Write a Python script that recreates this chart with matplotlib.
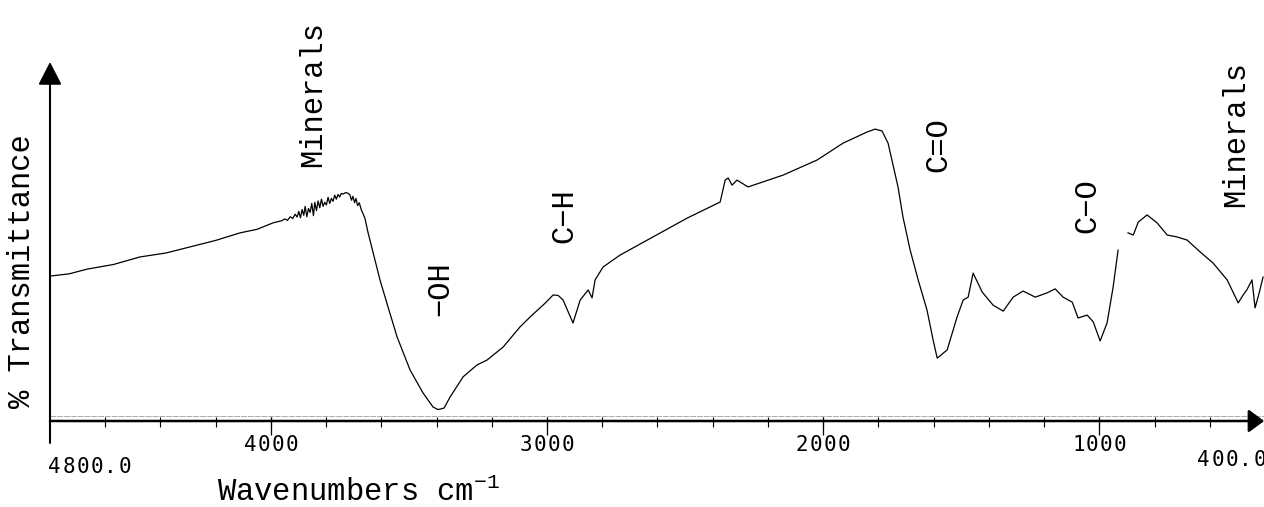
import matplotlib.pyplot as plt
import numpy as np

# FTIR spectrum (cm-1, %T in arbitrary 0-100 units)
wavenumber = [4796, 4730, 4666, 4570, 4474, 4380, 4293, 4200, 4112, 4050,
              3992, 3960, 3950, 3940, 3930, 3921, 3912, 3905, 3899, 3893,
              3887, 3881, 3876, 3870, 3864, 3858, 3852, 3846, 3841, 3835,
              3829, 3823, 3817, 3811, 3805, 3799, 3793, 3787, 3781, 3775,
              3769, 3763, 3757, 3751, 3745, 3739, 3730, 3722, 3714, 3708,
              3703, 3697, 3692, 3686, 3680, 3673, 3665, 3659,
              3648, 3637, 3623, 3605, 3576, 3543, 3496, 3449, 3413, 3395, 3388,
              3373, 3351, 3304, 3254, 3217, 3159, 3098, 3061, 3010, 2978, 2960, 2942,
              2906, 2880, 2851, 2837, 2826, 2797, 2736, 2616, 2493, 2373,
              2355, 2344, 2330, 2312, 2272, 2145, 2022, 1928, 1841, 1812,
              1787, 1765, 1747, 1729, 1711, 1685, 1656, 1624, 1602, 1587,
              1551, 1515, 1493, 1475, 1457, 1424, 1385, 1348, 1312, 1276,
              1232, 1189, 1160, 1131, 1098, 1077, 1044, 1022, 997, 972,
              950, 932, np.nan, 896, 877, 859, 827, 791, 754, 720, 682, 635,
              588, 537, 497, 480, 466, 447, 436, 421, 407]
transmittance = [40.4, 41.0, 42.3, 43.6, 45.7, 46.8, 48.5, 50.3, 52.4, 53.4,
                 55.2, 55.8, 56.3, 55.9, 56.9, 56.4, 57.6, 56.8, 58.4, 56.6,
                 58.9, 57.3, 59.8, 56.9, 59.2, 58.1, 60.6, 57.2, 60.9, 58.6,
                 61.3, 59.4, 61.8, 59.8, 60.9, 60.2, 62.3, 60.6, 62.0, 61.2,
                 62.9, 61.8, 63.1, 62.4, 63.4, 63.2, 63.6, 63.5, 63.0, 61.5,
                 62.6, 60.8, 62.0, 60.0, 60.8, 58.9, 57.5, 56.3,
                 52.4, 49.0, 44.8, 39.3, 31.8, 23.4, 14.2, 7.8, 3.9, 3.2, 3.3,
                 3.6, 6.7, 12.3, 15.6, 17.0, 20.6, 26.2, 29.0, 32.6, 35.1, 35.0, 33.7,
                 27.3, 33.7, 36.5, 34.3, 39.3, 42.9, 46.2, 51.3, 56.5, 61.0,
                 67.1, 67.7, 65.7, 67.1, 65.2, 68.5, 72.7, 77.4, 80.5, 81.3,
                 80.8, 77.4, 71.3, 65.2, 56.8, 47.6, 39.3, 30.9, 22.6, 17.5,
                 19.8, 29.0, 33.7, 34.5, 41.2, 35.9, 32.3, 30.6, 34.5, 36.2,
                 34.5, 35.7, 36.8, 34.5, 33.1, 28.7, 29.5, 27.6, 22.3, 27.3,
                 37.3, 47.6, np.nan, 52.4, 51.8, 55.4, 57.4, 55.2, 51.8, 51.3, 50.4, 47.1,
                 44.0, 39.3, 32.9, 35.0, 36.5, 39.3, 31.5, 35.7, 40.1]
baseline_level = 1.4

band_labels = ['Minerals', '\u2212OH', 'C\u2212H', 'C=O', 'C\u2212O', 'Minerals']
band_x = [3847, 3387, 2938, 1584, 1044, 504]
band_y = [91.1, 37.0, 57.1, 76.9, 59.9, 79.9]

major_ticks = [4000, 3000, 2000, 1000]
minor_ticks = np.arange(4600, 500, -200)
x_start, x_end = 4800.0, 400.0

mono = 'Liberation Mono'
digits = 'DejaVu Sans Mono'

fig = plt.figure(figsize=(12.64, 5.07), dpi=100)
ax = fig.add_axes([50 / 1264, 86 / 507, 1215 / 1264, 359 / 507])
ax.set_xlim(x_start, x_end)
ax.set_ylim(0, 100)
ax.axis('off')


def spaced(x, y, s, align, adv=14.0):
    # instrument style digits: fixed wide pitch
    n = len(s)
    if align == 'center':
        first = -adv * (n - 1) / 2
    elif align == 'left':
        first = 4.5
    else:
        first = -4.5 - adv * (n - 1)
    for i, ch in enumerate(s):
        ax.annotate(ch, (x, y), xytext=(first + i * adv, 0),
                    textcoords='offset pixels', family=digits, fontsize=15,
                    ha='center', va='center', annotation_clip=False)


# faint baseline trace and the spectrum
ax.plot([x_start, x_end], [baseline_level, baseline_level], color='#aaaaaa',
        lw=0.7, ls=(0, (6, 1)))
ax.plot(wavenumber, transmittance, color='black', lw=0.9)

# axes with arrows
ax.annotate('', xy=(403, 0), xytext=(x_start, 0), annotation_clip=False,
            arrowprops=dict(arrowstyle='-|>,head_length=0.95,head_width=0.7',
                            color='black', lw=1.8, shrinkA=0, shrinkB=0,
                            mutation_scale=10))
ax.annotate('', xy=(x_start, 100), xytext=(x_start, -6.1), annotation_clip=False,
            arrowprops=dict(arrowstyle='-|>,head_length=1.4,head_width=0.72',
                            color='black', lw=1.5, shrinkA=0, shrinkB=0,
                            mutation_scale=10))

# ticks
ax.vlines(minor_ticks, -1.7, 1.1, color='black', lw=0.8, clip_on=False)
ax.vlines(major_ticks, -3.9, 1.1, color='black', lw=0.9, clip_on=False)
for t in major_ticks:
    spaced(t, -6.6, str(t), 'center')
spaced(4800, -12.7, '%.1f' % x_start, 'left')
spaced(403, -11.0, '%.1f' % x_end, 'right')

# band labels
for lab, bx, by in zip(band_labels, band_x, band_y):
    ax.text(bx, by, lab, family=mono, fontsize=22, rotation=90,
            ha='center', va='center')

plt.rcParams['font.family'] = mono
fig.text(22 / 1264, 1 - 271 / 507, '% Transmittance', family=mono, fontsize=22,
         rotation=90, ha='center', va='center')
fig.text(359 / 1264, 1 - 493 / 507, r'Wavenumbers cm$^{\mathregular{-1}}$',
         family=mono, fontsize=22, ha='center', va='center')

fig.savefig('out.png', dpi=100)
